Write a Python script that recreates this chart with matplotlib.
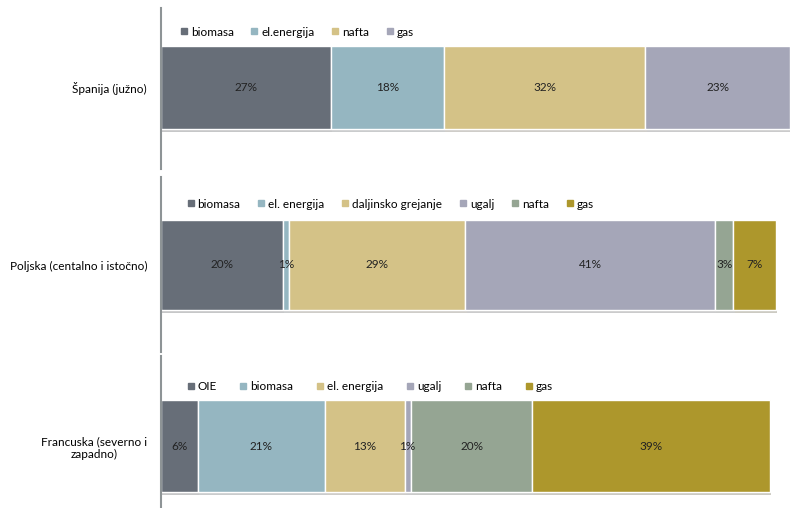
import matplotlib
matplotlib.use("Agg")
import matplotlib.pyplot as plt
import matplotlib.patheffects as pe
from matplotlib.lines import Line2D

plt.rcParams['font.family'] = ['Lato', 'DejaVu Sans']

# ---- data ----
cat1 = "Španija (južno)"
series1 = ["biomasa", "el.energija", "nafta", "gas"]
values1 = [0.27, 0.18, 0.32, 0.23]

cat2 = "Poljska (centalno i istočno)"
series2 = ["biomasa", "el. energija", "daljinsko grejanje", "ugalj", "nafta", "gas"]
values2 = [0.20, 0.01, 0.29, 0.41, 0.03, 0.07]

cat3 = "Francuska (severno i\nzapadno)"
series3 = ["OIE", "biomasa", "el. energija", "ugalj", "nafta", "gas"]
values3 = [0.06, 0.21, 0.13, 0.01, 0.20, 0.39]

C_DARK = "#676E78"
C_BLUE = "#95B6C1"
C_TAN = "#D4C287"
C_LAV = "#A5A6B8"
C_GRN = "#95A593"
C_OLV = "#AD972C"

colors1 = [C_DARK, C_BLUE, C_TAN, C_LAV]
colors2 = [C_DARK, C_BLUE, C_TAN, C_LAV, C_GRN, C_OLV]
colors3 = [C_DARK, C_BLUE, C_TAN, C_LAV, C_GRN, C_OLV]

W, H = 790, 508
FS = 8.5
fig = plt.figure(figsize=(W / 100, H / 100), dpi=100)


def px_axes(left, top, right, bottom):
    return fig.add_axes([left / W, 1 - bottom / H, (right - left) / W, (bottom - top) / H])


def panel(box, ylim, barh, xmax, cat, series, values, colors, leg_xy, colspace):
    ax = px_axes(*box)
    left = 0.0
    handles = []
    for name, v, c in zip(series, values, colors):
        ax.barh(0, v, left=left, height=barh, color=c, edgecolor="white", linewidth=1.0,
                path_effects=[pe.SimplePatchShadow(offset=(1, -2), alpha=0.25), pe.Normal()])
        ax.text(left + v / 2, 0, f"{round(v * 100):.0f}%", ha="center", va="center",
                fontsize=FS, color="#222222")
        handles.append(Line2D([], [], marker="s", linestyle="none", markersize=4.5,
                              markerfacecolor=c, markeredgecolor=c, label=name))
        left += v
    ax.set_xlim(0, xmax)
    ax.set_ylim(*ylim)
    ax.set_yticks([0])
    ax.set_yticklabels([cat], fontsize=FS, multialignment="center")
    ax.tick_params(axis="y", length=0, pad=10)
    ax.set_xticks([])
    for s in ["top", "right", "bottom"]:
        ax.spines[s].set_visible(False)
    ax.spines["left"].set_color("#8E9496")
    ax.spines["left"].set_linewidth(1.5)
    fig.legend(handles=handles, loc="center left",
               bbox_to_anchor=(leg_xy[0] / W, 1 - leg_xy[1] / H),
               ncol=len(series), frameon=False, fontsize=FS,
               handlelength=0.6, handletextpad=0.3, columnspacing=colspace,
               borderaxespad=0, borderpad=0)
    return ax


panel((161, 8, 790, 169), (-81.5, 79.5), 83, 1.0, cat1, series1, values1, colors1, (180, 32), 1.45)
panel((161, 177, 790, 352), (-87, 88), 90, 1.033, cat2, series2, values2, colors2, (187, 204), 1.45)
panel((161, 356, 790, 508), (-62, 90), 92, 1.033, cat3, series3, values3, colors3, (187, 387), 1.95)

fig.savefig("out.png", dpi=100)
